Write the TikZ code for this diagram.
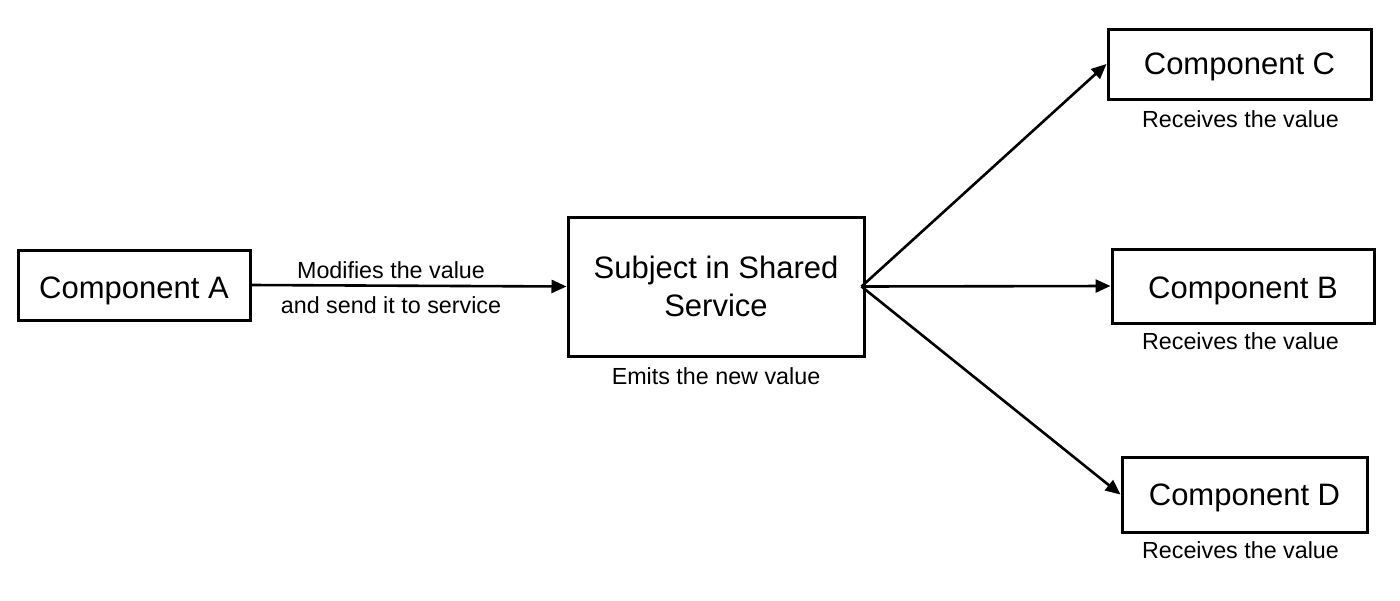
\documentclass[tikz,border=0pt]{standalone}
\usepackage{fontspec}
\setmainfont{Liberation Sans}
\usetikzlibrary{arrows.meta}
\begin{document}
\begin{tikzpicture}[x=1pt,y=-1pt,
  box/.style={draw=black,line width=3pt,inner sep=0pt,font=\fontsize{31}{38}\selectfont,align=center},
  one/.style={text height=22pt,text depth=0pt},
  lbl/.style={inner sep=0pt,font=\fontsize{23.3}{27}\selectfont},
  conn/.style={line width=2.6pt,-{Triangle[length=15pt,width=13pt]}}]
\useasboundingbox (0,0) rectangle (1400,600);
\node[box,one,text height=26pt,minimum width=232pt,minimum height=70pt] (A) at (134,285) {Component A};
\node[box,minimum width=296pt,minimum height=139pt] (S) at (716,286.5) {Subject in Shared\\Service};
\node[box,one,text height=20pt,minimum width=263pt,minimum height=70pt] (C) at (1239.5,64) {Component C};
\node[box,one,text height=25pt,minimum width=262pt,minimum height=74pt] (B) at (1243,286) {Component B};
\node[box,one,minimum width=245pt,minimum height=75pt] (D) at (1244.5,494.5) {Component D};
\node[lbl] (l1) at (391,270) {Modifies the value};
\node[lbl] (l2) at (391,305) {and send it to service};
\node[lbl] (lS) at (716,376) {Emits the new value};
\node[lbl] (lC) at (1240.5,119) {Receives the value};
\node[lbl] (lB) at (1240.5,341) {Receives the value};
\node[lbl] (lD) at (1240.5,550) {Receives the value};
\coordinate (So) at ([xshift=-4pt]S.east);
\draw[conn] (A.east) -- (S.west);
\draw[conn] (So) -- (C.west);
\draw[conn] (So) -- (B.west);
\draw[conn] (So) -- (D.west);
\end{tikzpicture}
\end{document}
